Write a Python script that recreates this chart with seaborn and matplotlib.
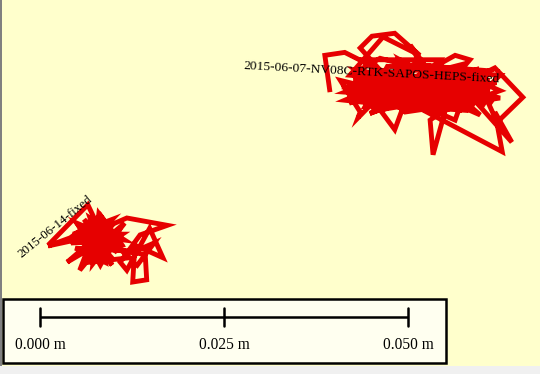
import matplotlib
matplotlib.use("Agg")
import matplotlib.pyplot as plt
import matplotlib.patches as mpatches
import matplotlib.transforms as mtransforms
import seaborn as sns
import pandas as pd

# Track 1: 2015-06-07-NV08C-RTK-SAPOS-HEPS-fixed (east/north in mm)
track1_name = "2015-06-07-NV08C-RTK-SAPOS-HEPS-fixed"
track1_east = [39.4, 38.7, 41.4, 46.2, 43.5, 45.1, 48.2, 51.6, 46.6, 42.1, 50.3, 56.4, 58.4, 54.3,
               61.8, 65.6, 62.1, 59.8, 53.0, 53.4, 55.0, 48.9, 40.8, 43.5, 43.2, 47.6, 58.4, 62.5,
               51.0, 41.4, 51.6, 62.8, 61.8, 64.1, 58.4, 46.2, 48.2, 50.3, 61.1, 56.4, 44.2, 54.3,
               60.5, 48.9, 52.3, 42.1, 57.1, 59.1, 46.9, 55.0, 44.8, 53.0, 62.5, 49.6, 42.8, 57.7,
               47.6, 59.8, 51.6, 41.4, 55.7, 50.3, 53.7, 61.1, 45.5, 56.4, 58.4, 48.2, 54.3, 43.5,
               51.6, 60.5, 48.9, 57.1, 53.0, 45.5, 55.0, 46.2,
               42.5, 47.0, 44.0, 50.5, 46.5, 53.5, 49.0, 56.0, 51.5, 59.0, 54.0, 61.5, 57.0, 62.5,
               55.5, 60.0, 52.0, 57.5, 48.5, 54.5, 45.0, 51.0, 42.0, 48.0, 43.0, 58.5, 41.0, 60.5,
               44.5, 61.5, 46.0, 52.5, 47.5, 56.5, 49.5, 59.5, 45.5, 55.0, 50.0, 57.5, 43.8, 53.2,
               48.8, 60.8, 51.8, 58.2, 46.8, 62.0, 53.8, 44.2, 47.2, 55.8, 50.8, 61.0, 44.8, 58.8,
               52.8, 42.6, 56.2, 49.2]
track1_north = [38.3, 43.3, 43.7, 41.3, 44.3, 45.9, 46.3, 43.3, 45.8, 40.6, 39.9, 43.3, 42.7, 37.9,
                41.6, 37.6, 34.2, 39.3, 34.5, 29.8, 35.6, 37.9, 39.9, 35.6, 34.8, 39.3, 36.5, 40.6,
                41.3, 37.2, 36.1, 30.2, 35.6, 31.5, 37.9, 35.9, 33.2, 38.9, 38.6, 40.6, 37.9, 41.3,
                36.5, 42.7, 37.2, 38.9, 35.9, 41.3, 37.2, 39.3, 41.6, 39.9, 37.5, 35.6, 41.3, 38.9,
                40.6, 35.2, 42.4, 38.3, 37.2, 44.7, 38.6, 39.9, 39.3, 34.5, 40.2, 36.5, 42.7, 42.7,
                38.3, 37.9, 39.9, 42.0, 35.9, 37.2, 40.6, 42.9,
                40.8, 35.8, 41.2, 36.0, 40.9, 36.3, 41.0, 36.2, 40.7, 36.4, 40.8, 36.8, 40.9, 38.5,
                36.0, 40.4, 35.8, 39.8, 36.2, 39.5, 36.0, 39.6, 36.8, 39.8, 38.0, 38.2, 39.0, 39.0,
                37.5, 37.5, 38.8, 37.0, 37.8, 38.0, 38.5, 37.2, 39.8, 38.6, 37.3, 37.0, 39.4, 40.2,
                37.0, 40.2, 38.0, 35.8, 36.6, 39.6, 38.0, 36.4, 41.8, 41.6, 42.0, 41.2, 35.4, 41.0,
                41.9, 40.0, 37.4, 39.2]

# Track 2: 2015-06-14-fixed (east/north in mm)
track2_name = "2015-06-14-fixed"
track2_east = [1.1, 6.5, 7.5, 4.1, 1.1, 4.8, 8.2, 10.2, 5.4, 3.7, 9.5, 11.8, 17.3, 13.6, 10.9,
               11.8, 14.9, 16.7, 12.9, 12.6, 14.5, 14.3, 8.2, 5.4, 7.5, 10.6, 4.8, 8.8, 6.8, 11.5,
               6.1, 9.5, 7.5, 10.9, 8.2, 5.2, 10.2, 12.2, 6.8, 8.8,
               5.0, 9.0, 6.0, 10.5, 7.0, 11.0, 5.5, 9.8, 4.5, 11.2, 6.5, 8.5, 5.8, 10.0, 7.8,
               4.2, 9.2, 6.2, 11.5, 7.2, 8.0, 10.8, 5.2, 8.8, 6.8, 9.8, 7.5, 12.5, 15.5, 13.0]
track2_north = [17.5, 23.0, 20.9, 18.5, 17.4, 18.2, 21.6, 18.9, 16.2, 15.2, 20.2, 21.2, 20.2, 18.9,
                15.2, 14.1, 19.8, 15.8, 17.5, 12.5, 12.8, 16.2, 17.5, 14.1, 19.6, 16.8, 17.1, 15.2,
                21.2, 18.2, 18.9, 16.2, 16.8, 19.8, 14.8, 20.2, 17.5, 15.8, 15.2, 18.9,
                20.5, 16.0, 21.0, 16.5, 21.3, 17.5, 16.5, 21.0, 19.0, 19.0, 15.8, 20.8, 17.8,
                15.5, 18.0, 17.8, 19.5, 16.0, 20.5, 15.0, 21.8, 18.0, 19.5, 17.0, 20.0, 14.8,
                17.5, 16.5, 17.8, 14.5]

# Scale bar
scale_ticks_mm = [0, 25, 50]
scale_labels = ["0.000 m", "0.025 m", "0.050 m"]

sns.set_theme(style="white")
plt.rcParams["font.family"] = ["Liberation Serif", "DejaVu Serif"]

fig = plt.figure(figsize=(5.4, 3.74), dpi=100)
fig.patch.set_facecolor("#FFFFCC")
ax = fig.add_axes([0, 0, 1, 1])
ax.set_facecolor("#FFFFCC")
ax.set_xlim(-5.43, 67.93)
ax.set_ylim(0, 50.82)
ax.axis("off")

red = "#E60000"
for e, n in [(track1_east, track1_north), (track2_east, track2_north)]:
    df = pd.DataFrame({"east": e, "north": n})
    sns.lineplot(data=df, x="east", y="north", sort=False, estimator=None,
                 color=red, linewidth=3.5, ax=ax, zorder=3)
for line in ax.get_lines():
    line.set_solid_joinstyle("miter")
    line.set_solid_capstyle("butt")

ax.text(27.6, 41.5, track1_name, fontsize=9.7, rotation=-3,
        rotation_mode="anchor", ha="left", va="baseline", color="black", zorder=5)
ax.text(-2.5, 15.8, track2_name, fontsize=9.4, rotation=39,
        rotation_mode="anchor", ha="left", va="baseline", color="black", zorder=5)

# bottom grey strip and left border
fig.patches.append(mpatches.Rectangle((0, 0), 1, 8 / 374, transform=fig.transFigure,
                                      facecolor="#F0F0F0", edgecolor="none", zorder=1))
fig.patches.append(mpatches.Rectangle((0, 8 / 374), 2 / 540, 1, transform=fig.transFigure,
                                      facecolor="#808080", edgecolor="none", zorder=1))

# scale bar box
box = mpatches.Rectangle((3 / 540, 11 / 374), 443 / 540, 64 / 374, transform=fig.transFigure,
                         facecolor="#FFFFF0", edgecolor="black", linewidth=1.8, zorder=6)
ax.add_patch(box)
btrans = mtransforms.blended_transform_factory(ax.transData, ax.transAxes)
yb = (374 - 317) / 374
ax.plot([scale_ticks_mm[0], scale_ticks_mm[-1]], [yb, yb], color="black", lw=1.8,
        transform=btrans, zorder=7, solid_capstyle="butt")
for t, lab in zip(scale_ticks_mm, scale_labels):
    ax.plot([t, t], [(374 - 308) / 374, (374 - 326) / 374], color="black", lw=1.8,
            transform=btrans, zorder=7)
    ax.text(t, (374 - 345) / 374, lab, transform=btrans, ha="center", va="center",
            fontsize=11.2, color="black", zorder=7)

fig.savefig("out.png", dpi=100, facecolor=fig.get_facecolor())
